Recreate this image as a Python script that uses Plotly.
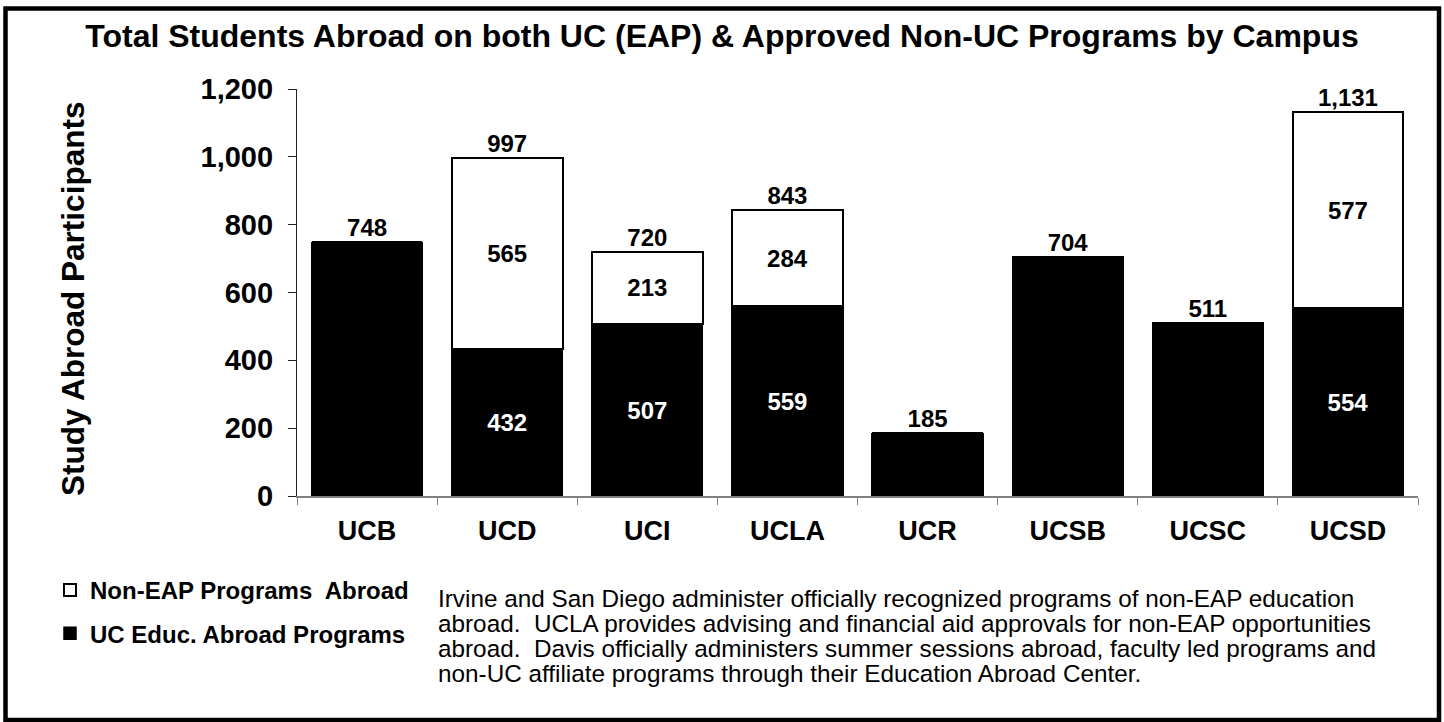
import plotly.graph_objects as go

campuses = ["UCB", "UCD", "UCI", "UCLA", "UCR", "UCSB", "UCSC", "UCSD"]
uc_eap = [748, 432, 507, 559, 185, 704, 511, 554]
non_eap = [0, 565, 213, 284, 0, 0, 0, 577]
y_ticks = [0, 200, 400, 600, 800, 1000, 1200]

title_text = "Total Students Abroad on both UC (EAP) & Approved Non-UC Programs by Campus"
y_title = "Study Abroad Participants"
legend_names = ["UC Educ. Abroad Programs", "Non-EAP Programs\u00a0 Abroad"]
note_lines = [
    "Irvine and San Diego administer officially recognized programs of non-EAP education",
    "abroad.\u00a0 UCLA provides advising and financial aid approvals for non-EAP opportunities",
    "abroad.\u00a0 Davis officially administers summer sessions abroad, faculty led programs and",
    "non-UC affiliate programs through their Education Abroad Center.",
]

totals = [a + b for a, b in zip(uc_eap, non_eap)]

FONT = "Liberation Sans, Arial, sans-serif"
W, H = 1444, 722
L, R, T, B = 297, 1418, 89, 496
PW, PH = R - L, B - T


def px_x(px):
    return (px - L) / PW


def px_y(py):
    return (B - py) / PH


fig = go.Figure()

fig.add_trace(go.Bar(
    x=campuses, y=uc_eap, name=legend_names[0],
    marker=dict(color="black", line=dict(color="black", width=1.5)),
    text=[f"{v:,}" if n > 0 else "" for v, n in zip(uc_eap, non_eap)],
    textposition="inside", insidetextanchor="middle", textangle=0,
    insidetextfont=dict(color="white", size=24, family=FONT, weight="bold"),
    legendgroup="a", legendrank=2,
))
fig.add_trace(go.Bar(
    x=campuses, y=non_eap, name=legend_names[1],
    marker=dict(color="white", line=dict(color="black", width=2)),
    text=[f"{v:,}" if v > 0 else "" for v in non_eap],
    textposition="inside", insidetextanchor="middle", textangle=0,
    insidetextfont=dict(color="black", size=24, family=FONT, weight="bold"),
    legendgroup="b", legendrank=1,
))
fig.add_trace(go.Scatter(
    x=campuses, y=totals, mode="text",
    text=[f"{v:,}" for v in totals], textposition="top center",
    textfont=dict(color="black", size=24, family=FONT, weight="bold"),
    showlegend=False, cliponaxis=False, hoverinfo="skip",
))

annotations = [dict(
    text=y_title, xref="paper", yref="paper", x=px_x(73), y=px_y(299),
    xanchor="center", yanchor="middle", textangle=-90, showarrow=False,
    font=dict(size=31.5, family=FONT, weight="bold", color="black"),
)]
for i, line in enumerate(note_lines):
    annotations.append(dict(
        text=line, xref="paper", yref="paper",
        x=px_x(436), y=px_y(598.5 + 25 * i), xanchor="left", yanchor="middle",
        showarrow=False, font=dict(size=24.3, family=FONT, color="black"),
    ))

fig.update_layout(
    width=W, height=H,
    margin=dict(l=L, r=W - R, t=T, b=H - B, autoexpand=False),
    paper_bgcolor="white", plot_bgcolor="white",
    barmode="stack", bargap=0.21,
    font=dict(family=FONT, color="black"),
    title=dict(text=title_text, xref="container", yref="container",
               x=0.5, y=1 - 36 / H, xanchor="center", yanchor="middle",
               font=dict(size=32, family=FONT, weight="bold", color="black")),
    xaxis=dict(showline=True, linecolor="#808080", linewidth=1.5,
               ticks="outside", tickson="boundaries", ticklen=7, tickcolor="#808080",
               tickfont=dict(size=27, family=FONT, weight="bold", color="black"),
               ticklabelstandoff=10,
               showgrid=False, zeroline=False, automargin=False),
    yaxis=dict(range=[0, 1200], tickvals=y_ticks, tickformat=",",
               showline=True, linecolor="#222222", linewidth=1.2,
               ticks="outside", ticklen=8, tickcolor="#222222",
               tickfont=dict(size=29, family=FONT, weight="bold", color="black"),
               ticklabelstandoff=9,
               showgrid=False, zeroline=False, automargin=False),
    legend=dict(xref="container", yref="container", x=50 / W, y=1 - 568 / H,
                xanchor="left", yanchor="top", traceorder="grouped",
                tracegroupgap=9, bgcolor="rgba(0,0,0,0)",
                font=dict(size=24, family=FONT, weight="bold", color="black")),
    annotations=annotations,
    shapes=[dict(type="rect", xref="paper", yref="paper",
                 x0=px_x(5.5), x1=px_x(1439), y0=px_y(720), y1=px_y(8.5),
                 line=dict(color="black", width=4.5), fillcolor="rgba(0,0,0,0)", layer="above")],
    showlegend=True,
)

fig.write_html("out.html", config={"displayModeBar": False},
               post_script="document.body.style.margin='0px';")
